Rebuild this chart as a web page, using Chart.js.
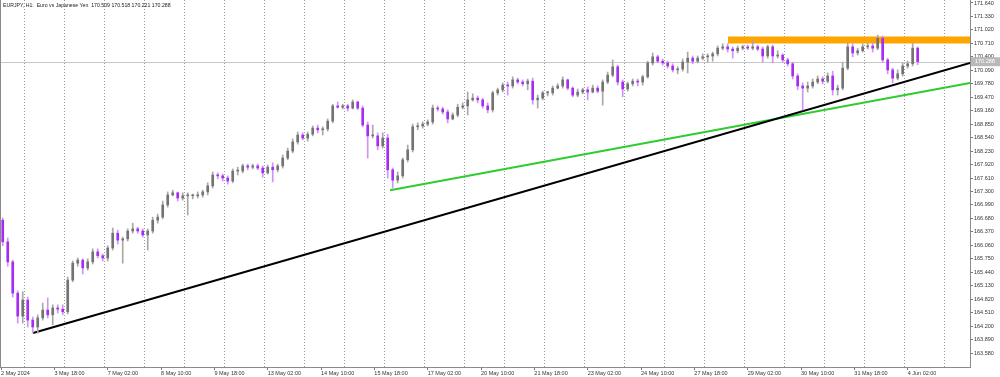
<!DOCTYPE html>
<html><head><meta charset="utf-8">
<script src="https://cdn.jsdelivr.net/npm/chart.js@4.4.1/dist/chart.umd.min.js"></script>
<style>html,body{margin:0;padding:0;background:#fff;overflow:hidden}#wrap{width:1000px;height:377px;position:relative}canvas{display:block}</style>
</head><body><div id="wrap"><canvas id="c" width="1000" height="377"></canvas></div>
<script>
const chartTitle = "EURJPY, H1:  Euro vs Japanese Yen  170.509 170.518 170.221 170.288";
const lastPrice = 170.288;

const xTickBars = [0,32,64,96,128,160,192,224,256,288,320,352,384,416,448,480,512,544];
const xTickLabels = ["2 May 2024","3 May 18:00","7 May 02:00","8 May 10:00","9 May 18:00","13 May 02:00","14 May 10:00","15 May 18:00","17 May 02:00","20 May 10:00","21 May 18:00","23 May 02:00","24 May 10:00","27 May 18:00","29 May 02:00","30 May 10:00","31 May 18:00","4 Jun 02:00"];
const dayStartBars = [14,38,62,86,110,134,158,182,206,230,254,278,302,326,350,374,398,422,446,470,494,518,542,566];
const yTickValues = [163.58,163.89,164.20,164.51,164.82,165.13,165.44,165.75,166.06,166.37,166.68,166.99,167.30,167.61,167.92,168.23,168.54,168.85,169.16,169.47,169.78,170.09,170.40,170.71,171.02,171.33,171.64];

const opens = [
166.64,166.14,165.68,164.96,164.43,164.80,164.34,164.18,164.39,164.57,
164.46,164.62,164.59,164.53,165.26,165.65,165.72,165.54,165.68,165.91,
165.82,165.77,166.00,166.34,166.18,166.21,166.39,166.44,166.39,166.30,
166.39,166.64,166.71,166.99,167.22,167.27,167.15,167.20,167.20,167.20,
167.22,167.29,167.43,167.68,167.66,167.61,167.54,167.77,167.77,167.89,
167.86,167.89,167.84,167.73,167.86,167.80,167.89,168.07,168.23,168.44,
168.60,168.53,168.62,168.76,168.72,168.74,168.92,169.27,169.24,169.27,
169.22,169.36,169.22,168.83,168.58,168.58,168.35,168.53,167.80,167.56,
167.66,168.03,168.26,168.79,168.81,168.85,168.90,169.22,169.20,169.13,
168.97,169.06,169.24,169.27,169.41,169.45,169.41,169.27,169.18,169.57,
169.64,169.75,169.73,169.87,169.82,169.78,169.84,169.41,169.45,169.57,
169.57,169.68,169.73,169.87,169.68,169.52,169.59,169.64,169.59,169.68,
169.61,169.82,169.98,170.17,169.82,169.66,169.78,169.84,169.82,169.94,
170.26,170.40,170.30,170.26,170.19,170.10,170.12,170.28,170.37,170.30,
170.37,170.40,170.42,170.47,170.60,170.63,170.58,170.54,170.60,170.63,
170.60,170.63,170.58,170.42,170.63,170.42,170.44,170.33,170.24,169.96,
169.73,169.68,169.73,169.82,169.89,169.84,169.96,169.64,169.68,170.14,
170.63,170.49,170.54,170.63,170.65,170.60,170.83,170.33,170.10,169.91,
170.01,170.19,170.24,170.60];
const highs = [
166.69,166.23,165.72,165.01,164.99,164.87,164.41,164.46,164.73,164.85,
164.69,164.69,164.69,165.33,165.70,165.77,165.75,165.75,165.98,165.98,
165.86,166.05,166.46,166.41,166.25,166.44,166.57,166.48,166.44,166.44,
166.71,166.78,167.08,167.29,167.33,167.29,167.27,167.27,167.24,167.29,
167.33,167.50,167.75,167.73,167.70,167.66,167.82,167.86,167.93,167.93,
167.93,167.93,167.89,167.91,167.96,167.93,168.14,168.30,168.51,168.67,
168.65,168.67,168.81,168.83,168.79,168.97,169.31,169.36,169.31,169.31,
169.41,169.38,169.27,168.90,168.83,168.65,168.65,168.62,167.84,167.75,
168.07,168.37,168.85,168.88,168.90,168.95,169.29,169.27,169.24,169.18,
169.11,169.31,169.34,169.59,169.55,169.50,169.45,169.34,169.61,169.68,
169.80,169.82,169.94,169.91,169.87,169.89,169.91,169.52,169.61,169.61,
169.73,169.78,169.94,169.89,169.71,169.66,169.68,169.71,169.75,169.73,
169.87,170.05,170.33,170.21,169.87,169.82,169.89,169.89,169.98,170.30,
170.49,170.44,170.35,170.30,170.24,170.17,170.35,170.51,170.42,170.42,
170.47,170.47,170.51,170.65,170.70,170.70,170.63,170.65,170.67,170.67,
170.79,170.67,170.63,170.67,170.67,170.54,170.47,170.37,170.28,170.01,
169.80,169.82,169.89,169.96,169.94,170.03,170.07,169.75,170.28,170.72,
170.70,170.60,170.70,170.72,170.72,170.90,170.88,170.37,170.14,170.10,
170.26,170.30,170.72,170.63];
const lows = [
166.05,165.58,164.87,164.27,164.27,164.18,164.04,164.04,164.34,164.39,
164.23,164.50,164.46,164.48,165.22,165.58,165.40,165.49,165.63,165.77,
165.70,165.70,165.95,166.09,165.65,166.16,166.34,166.34,166.25,165.95,
166.34,166.57,166.67,166.94,167.20,167.08,167.10,166.76,167.13,167.15,
167.17,167.22,167.38,167.59,167.54,167.47,167.50,167.68,167.73,167.80,
167.82,167.80,167.63,167.70,167.52,167.75,167.84,168.03,168.19,168.39,
168.49,168.46,168.58,168.65,168.60,168.69,168.88,169.22,169.20,169.15,
169.20,169.18,168.79,168.07,168.53,168.26,168.30,167.61,167.38,167.50,
167.61,167.98,168.21,168.72,168.76,168.81,168.85,169.15,169.08,168.88,
168.95,169.02,169.20,169.06,169.38,169.34,169.22,169.11,169.13,169.52,
169.59,169.52,169.68,169.78,169.73,169.64,169.31,169.22,169.41,169.50,
169.52,169.66,169.68,169.64,169.48,169.48,169.55,169.41,169.57,169.57,
169.29,169.78,169.94,169.75,169.48,169.61,169.73,169.73,169.75,169.91,
170.21,170.26,170.21,170.14,170.05,170.01,170.07,170.03,170.24,170.26,
170.33,170.28,170.30,170.42,170.56,170.51,170.37,170.49,170.56,170.56,
170.56,170.54,170.28,170.37,170.26,170.37,170.28,170.19,169.89,169.64,
169.18,169.59,169.68,169.78,169.78,169.80,169.52,169.52,169.64,170.10,
170.40,170.44,170.51,170.58,170.51,170.56,170.28,170.01,169.80,169.87,
169.96,170.14,170.19,170.22];
const closes = [
166.14,165.68,164.96,164.43,164.80,164.34,164.18,164.39,164.57,164.46,
164.62,164.59,164.53,165.26,165.65,165.72,165.54,165.68,165.91,165.82,
165.77,166.00,166.34,166.18,166.21,166.39,166.44,166.39,166.30,166.39,
166.64,166.71,166.99,167.22,167.27,167.15,167.20,167.20,167.20,167.22,
167.29,167.43,167.68,167.66,167.61,167.54,167.77,167.77,167.89,167.86,
167.89,167.84,167.73,167.86,167.80,167.89,168.07,168.23,168.44,168.60,
168.53,168.62,168.76,168.72,168.74,168.92,169.27,169.24,169.27,169.22,
169.36,169.22,168.83,168.58,168.58,168.35,168.53,167.80,167.56,167.66,
168.03,168.26,168.79,168.81,168.85,168.90,169.22,169.20,169.13,168.97,
169.06,169.24,169.27,169.41,169.45,169.41,169.27,169.18,169.57,169.64,
169.75,169.73,169.87,169.82,169.78,169.84,169.41,169.45,169.57,169.57,
169.68,169.73,169.87,169.68,169.52,169.59,169.64,169.59,169.68,169.61,
169.82,169.98,170.17,169.82,169.66,169.78,169.84,169.82,169.94,170.26,
170.40,170.30,170.26,170.19,170.10,170.12,170.28,170.37,170.30,170.37,
170.40,170.42,170.47,170.60,170.63,170.58,170.54,170.60,170.63,170.60,
170.63,170.58,170.42,170.63,170.42,170.44,170.33,170.24,169.96,169.73,
169.68,169.73,169.82,169.89,169.84,169.96,169.64,169.68,170.14,170.63,
170.49,170.54,170.63,170.65,170.60,170.83,170.33,170.10,169.91,170.01,
170.19,170.24,170.60,170.288];

// trend objects: [bar index, price]
const blackTrend = [[19.2,164.04],[581.4,170.26]];
const greenTrend = [[233.4,167.33],[581.4,169.80]];
const orangeZone = [[436.2,170.79],[581.4,170.79]];

// ---- CHART ----
const X_MIN = -0.64, X_MAX = 581.4, Y_MIN = 163.259, Y_MAX = 171.709;
const BULL_BODY = '#737373', BULL_WICK = '#a8a8a8', BEAR_BODY = '#a52cf0', BEAR_WICK = '#cd95f3';
const FONT = "'Liberation Sans', Arial, sans-serif";

const barPos = closes.map((_, k) => 3 * k + 1);
const bull = closes.map((c, k) => c >= opens[k]);
const wickData = barPos.map((x, k) => ({x, y: [lows[k], highs[k]]}));
const bodyData = barPos.map((x, k) => ({x, y: [Math.min(opens[k], closes[k]), Math.max(opens[k], closes[k])]}));
const toPts = arr => arr.map(p => ({x: p[0], y: p[1]}));
const noPad = s => { s.paddingTop = 0; s.paddingBottom = 0; s.paddingLeft = 0; s.paddingRight = 0; };

const overlay = {
  id: 'overlay',
  beforeDatasetsDraw(chart) {
    const {ctx, chartArea: a, scales: {y}} = chart;
    const py = Math.round(y.getPixelForValue(lastPrice)) + 0.5;
    ctx.save();
    ctx.strokeStyle = '#c8c8c8'; ctx.lineWidth = 1;
    ctx.beginPath(); ctx.moveTo(a.left, py); ctx.lineTo(a.right, py); ctx.stroke();
    ctx.restore();
  },
  afterDraw(chart) {
    const {ctx, chartArea: a, scales: {y}} = chart;
    ctx.save();
    ctx.strokeStyle = '#8a8a8a'; ctx.lineWidth = 1;
    ctx.beginPath(); ctx.moveTo(a.left + 0.5, a.top); ctx.lineTo(a.left + 0.5, a.bottom); ctx.stroke();
    const py = y.getPixelForValue(lastPrice);
    ctx.fillStyle = '#b9b9b9';
    ctx.fillRect(a.right + 1, py - 4.5, 30, 9);
    ctx.fillStyle = '#ffffff';
    ctx.font = '5.5px ' + FONT; ctx.textBaseline = 'middle'; ctx.textAlign = 'left';
    ctx.fillText(lastPrice.toFixed(3), a.right + 5, py);
    ctx.fillStyle = '#222';
    ctx.font = '5.2px ' + FONT; ctx.textBaseline = 'middle';
    ctx.fillText(chartTitle, 3, 5.5);
    ctx.restore();
  }
};

new Chart(document.getElementById('c'), {
  type: 'bar',
  data: {
    datasets: [
      {type: 'line', data: toPts(orangeZone), borderColor: '#ffa500', borderWidth: 7, borderCapStyle: 'butt', pointRadius: 0, order: 5, xAxisID: 'x', yAxisID: 'y'},
      {type: 'line', data: toPts(blackTrend), borderColor: '#000000', borderWidth: 2, pointRadius: 0, order: 4, xAxisID: 'x', yAxisID: 'y'},
      {type: 'line', data: toPts(greenTrend), borderColor: '#2ecc2e', borderWidth: 2, pointRadius: 0, order: 4, xAxisID: 'x', yAxisID: 'y'},
      {type: 'bar', data: wickData, backgroundColor: bull.map(b => b ? BULL_WICK : BEAR_WICK), barThickness: 1, grouped: false, order: 1, xAxisID: 'x', yAxisID: 'y'},
      {type: 'bar', data: bodyData, backgroundColor: bull.map(b => b ? BULL_BODY : BEAR_BODY), barThickness: 2, minBarLength: 1, grouped: false, order: 0, xAxisID: 'x', yAxisID: 'y'}
    ]
  },
  options: {
    animation: false, responsive: false, maintainAspectRatio: false, devicePixelRatio: 1,
    layout: {padding: 0},
    plugins: {legend: {display: false}, tooltip: {enabled: false}},
    scales: {
      x: {
        type: 'linear', position: 'bottom', min: X_MIN, max: X_MAX, offset: false,
        afterBuildTicks: s => { s.ticks = xTickBars.map(v => ({value: v})); },
        ticks: {callback: (v, i) => xTickLabels[i], autoSkip: false, maxRotation: 0, minRotation: 0, align: 'start', padding: 0, color: '#333', font: {family: FONT, size: 5.5}},
        grid: {offset: false, drawOnChartArea: false, drawTicks: true, tickLength: 3, color: '#777'},
        border: {display: true, color: '#8a8a8a', width: 1},
        afterFit: s => { s.height = 10; noPad(s); }
      },
      xg: {
        type: 'linear', position: 'bottom', min: X_MIN, max: X_MAX, offset: false,
        afterBuildTicks: s => { s.ticks = dayStartBars.map(v => ({value: v})); },
        ticks: {display: false},
        grid: {offset: false, drawOnChartArea: true, drawTicks: false, color: '#9a9a9a', lineWidth: 1},
        border: {display: false, dash: [1, 2]},
        afterFit: s => { s.height = 0; noPad(s); }
      },
      y: {
        type: 'linear', position: 'right', min: Y_MIN, max: Y_MAX,
        afterBuildTicks: s => { s.ticks = yTickValues.map(v => ({value: v})); },
        ticks: {callback: v => v.toFixed(3), autoSkip: false, padding: 1, color: '#333', font: {family: FONT, size: 5.5}},
        grid: {drawOnChartArea: false, drawTicks: true, tickLength: 3, color: '#777'},
        border: {display: true, color: '#8a8a8a', width: 1},
        afterFit: s => { s.width = 30; noPad(s); }
      }
    }
  },
  plugins: [overlay]
});
</script>
</body></html>
